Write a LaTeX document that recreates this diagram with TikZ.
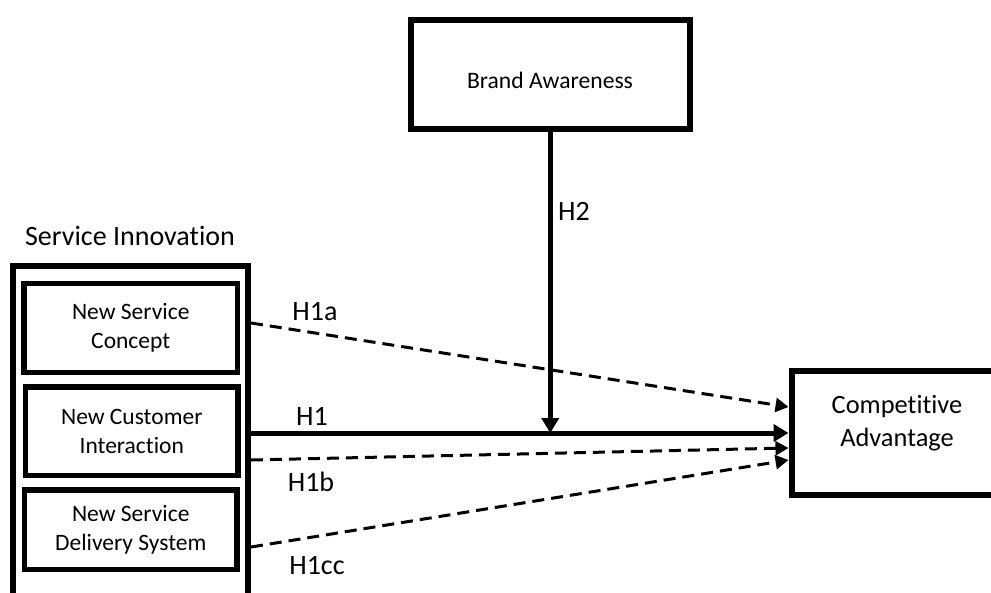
\documentclass[tikz,border=0pt]{standalone}
\usepackage{fontspec}
\setmainfont{Carlito}[Ligatures=NoCommon]
\usetikzlibrary{arrows.meta}

\begin{document}
\begin{tikzpicture}[x=1pt,y=-1pt,
  frame/.style={draw, rectangle, line width=6pt, inner sep=0pt},
  inbox/.style={draw, rectangle, line width=5.5pt, inner sep=0pt, align=center,
    font=\fontsize{23.5}{29.5}\selectfont},
  caption/.style={inner sep=0pt, align=center},
  hlabel/.style={inner sep=0pt, font=\fontsize{28}{34}\selectfont},
  solidlink/.style={line width=5pt, -{Triangle[length=15pt,width=17pt]}},
  dashlink/.style={line width=3pt, dash pattern=on 12pt off 7pt,
    -{Triangle[length=13pt,width=14pt]}}]

\useasboundingbox (0,0) rectangle (991,592);
\fill[white] (0,0) rectangle (991,592);
\clip (0,0) rectangle (991,592);

% moderator
\node[frame, minimum width=278.5pt, minimum height=109pt] (ba) at (550.25,74.5) {};
\node[caption, font=\fontsize{23.6}{29}\selectfont] (batext) at (550,80) {Brand Awareness};

% service innovation group
\node[caption, font=\fontsize{28}{34}\selectfont] (sititle) at (130,236) {Service Innovation};
\node[frame, minimum width=235pt, minimum height=354.5pt] (si) at (130.5,442.75) {};
\node[inbox, minimum width=213.5pt, minimum height=89pt] (nsc) at (130.75,328) {New Service\\Concept};
\node[inbox, minimum width=212.5pt, minimum height=88.5pt] (nci) at (131.75,431.25) {New Customer\\Interaction};
\node[inbox, minimum width=212.5pt, minimum height=79.5pt] (nsd) at (130.75,529.75) {New Service\\Delivery System};

% outcome (its right side runs past the page edge)
\node[frame, minimum width=228.5pt, minimum height=124pt] (ca) at (905.75,432.5) {};
\node[caption, font=\fontsize{26.4}{33}\selectfont] (catext) at (897,423) {Competitive\\Advantage};

% start and end points of the paths
\coordinate (s1a) at (si.east |- 0,323);
\coordinate (s1)  at (si.east |- 0,433);
\coordinate (s1b) at (si.east |- 0,460);
\coordinate (s1c) at (si.east |- 0,547);
\coordinate (e1a) at (ca.west |- 0,407);
\coordinate (e1)  at (ca.west |- 0,433);
\coordinate (e1b) at (ca.west |- 0,448);
\coordinate (e1c) at (ca.west |- 0,460);
\coordinate (m2)  at (ba.south |- 0,433);

\draw[dashlink] (s1a) -- (e1a);
\draw[dashlink] (s1b) -- (e1b);
\draw[dashlink] (s1c) -- (e1c);
\draw[solidlink] (s1) -- (e1);
\draw[solidlink] (ba.south) -- (m2);

% path labels
\node[hlabel] (l1a) at (315,312) {H1a};
\node[hlabel] (l1)  at (312,416) {H1};
\node[hlabel] (l1b) at (311,482) {H1b};
\node[hlabel] (l1c) at (317,566) {H1cc};
\node[hlabel] (l2)  at (574,211) {H2};
\end{tikzpicture}
\end{document}
